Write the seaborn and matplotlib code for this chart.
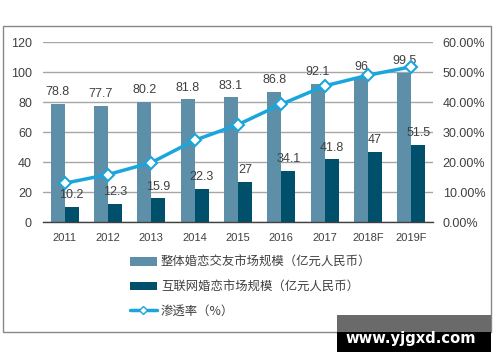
import numpy as np
import pandas as pd
import matplotlib
matplotlib.use("Agg")
import matplotlib.pyplot as plt
from matplotlib.lines import Line2D
from matplotlib.patches import Rectangle
from matplotlib.ticker import FuncFormatter, MultipleLocator
import seaborn as sns

years = ["2011", "2012", "2013", "2014", "2015", "2016", "2017", "2018F", "2019F"]
overall = [78.8, 77.7, 80.2, 81.8, 83.1, 86.8, 92.1, 96, 99.5]
online = [10.2, 12.3, 15.9, 22.3, 27, 34.1, 41.8, 47, 51.5]
penetration = [0.1294, 0.1583, 0.1983, 0.2726, 0.3249, 0.3929, 0.4539, 0.4896, 0.5176]
name_overall = "整体婚恋交友市场规模（亿元人民币）"
name_online = "互联网婚恋市场规模（亿元人民币）"
name_pen = "渗透率（%）"

c_light = "#5e8fa8"
c_dark = "#00506b"
c_line = "#1aa5dd"
txt = "#404040"

sns.set_style("white")
plt.rcParams["font.family"] = ["Liberation Sans", "Noto Sans CJK SC", "DejaVu Sans"]

df = pd.DataFrame({
    "year": years * 2,
    "value": overall + online,
    "series": [name_overall] * len(years) + [name_online] * len(years),
})

fig = plt.figure(figsize=(5.0, 3.62), dpi=100)
ax = fig.add_axes([0.086, 0.3867, 0.780, 0.497])

sns.barplot(data=df, x="year", y="value", hue="series", order=years,
            hue_order=[name_overall, name_online],
            palette=[c_light, c_dark], width=0.65, ax=ax, saturation=1,
            errorbar=None, linewidth=0)

for cont in ax.containers:
    ax.bar_label(cont, fmt="{:g}", padding=4, fontsize=9, color=txt)

handles, labels = ax.get_legend_handles_labels()
if ax.get_legend() is not None:
    ax.get_legend().remove()

ax.set_ylim(0, 120)
ax.yaxis.set_major_locator(MultipleLocator(20))
ax.set_xlim(-0.5, len(years) - 0.5)
ax.grid(axis="y", color="#a6a6a6", lw=1)
ax.set_axisbelow(True)
for s in ["left", "right", "top"]:
    ax.spines[s].set_visible(False)
ax.spines["bottom"].set_color("#404040")
ax.spines["bottom"].set_linewidth(1)
ax.tick_params(axis="y", length=0, pad=8, labelsize=9, labelcolor=txt)
ax.tick_params(axis="x", length=0, pad=8, labelsize=8, labelcolor=txt)
ax.set_xlabel("")
ax.set_ylabel("")

ax2 = ax.twinx()
sns.pointplot(x=years, y=penetration, ax=ax2, color=c_line, markers="D",
              markersize=6, linewidth=2.5, errorbar=None)
for ln in ax2.lines:
    ln.set_markerfacecolor("white")
    ln.set_markeredgecolor(c_line)
    ln.set_markeredgewidth(1.5)
    ln.set_zorder(5)
ax2.set_ylim(0, 0.6)
ax2.yaxis.set_major_locator(MultipleLocator(0.1))
ax2.yaxis.set_major_formatter(FuncFormatter(lambda v, p: f"{v*100:.2f}%"))
for s in ["left", "right", "top", "bottom"]:
    ax2.spines[s].set_visible(False)
ax2.tick_params(axis="y", length=0, pad=7, labelsize=9, labelcolor=txt)
ax2.set_xlabel("")
ax2.set_ylabel("")
ax2.set_xlim(-0.5, len(years) - 0.5)
ax2.grid(False)

line_handle = Line2D([0], [0], color=c_line, lw=2.5, marker="D", markersize=4,
                     markerfacecolor="white", markeredgecolor=c_line)
leg = fig.legend(handles + [line_handle], labels + [name_pen],
                 loc="upper left", bbox_to_anchor=(130 / 500, 1 - 256 / 362),
                 frameon=False, borderpad=0, borderaxespad=0,
                 handlelength=2.17, handletextpad=0.33, labelspacing=0.92,
                 prop={"family": ["Noto Sans CJK SC"], "size": 8.9})
for t in leg.get_texts():
    t.set_color(txt)

fig.patches.append(Rectangle((3 / 500, 1 - 332 / 362), 488 / 500, 306 / 362,
                             transform=fig.transFigure, fill=False,
                             edgecolor="#888888", lw=1))
fig.patches.append(Rectangle((337 / 500, 1 - 332 / 362), 154 / 500, 17 / 362,
                             transform=fig.transFigure, facecolor="#6a6a6a",
                             edgecolor="none", zorder=10))
fig.patches.append(Rectangle((337 / 500, 1 - 352 / 362), 154 / 500, 20 / 362,
                             transform=fig.transFigure, facecolor="black",
                             edgecolor="none", zorder=10))
fig.text(411 / 500, 1 - 339 / 362, "www.yjgxd.com", color="white",
         fontsize=10.6, fontweight="bold", family="DejaVu Sans",
         ha="center", va="center", zorder=11)

fig.savefig("out.png", dpi=100)
